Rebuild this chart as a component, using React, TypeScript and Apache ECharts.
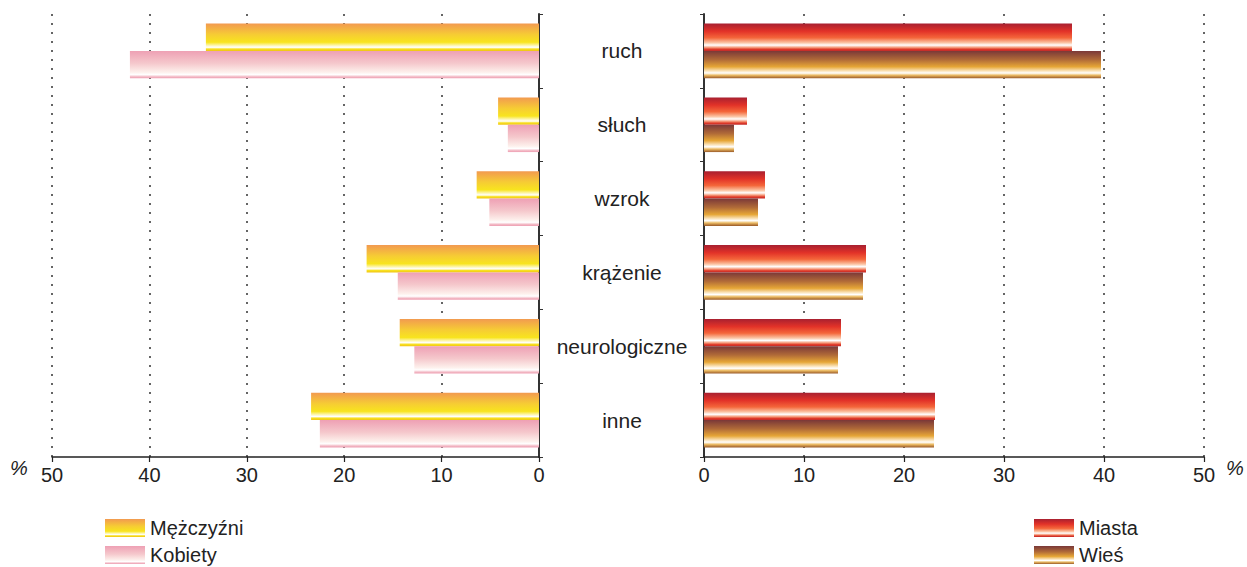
import React, { useEffect, useRef } from "react";
import * as echarts from "echarts";

const categories = ["ruch", "słuch", "wzrok", "krążenie", "neurologiczne", "inne"];
const men = [34.2, 4.2, 6.4, 17.7, 14.3, 23.4];
const women = [42.0, 3.2, 5.1, 14.5, 12.8, 22.5];
const city = [36.8, 4.3, 6.1, 16.2, 13.7, 23.1];
const village = [39.7, 3.0, 5.4, 15.9, 13.4, 23.0];
const xTicks = [0, 10, 20, 30, 40, 50];

const FONT = "Liberation Sans, Arial, Helvetica, sans-serif";

const grad = (stops: [number, string][]) => ({
  type: "linear",
  x: 0,
  y: 0,
  x2: 0,
  y2: 1,
  colorStops: stops.map(([offset, color]) => ({ offset, color })),
});

const menColor = grad([
  [0, "#f29a50"],
  [0.4, "#f6cc34"],
  [0.68, "#f8e41e"],
  [0.8, "#fdf6b0"],
  [0.87, "#ffffff"],
  [0.93, "#f8e020"],
  [1, "#f0c414"],
]);
const womenColor = grad([
  [0, "#eea0b4"],
  [0.45, "#f5c8cc"],
  [0.78, "#fdf0ec"],
  [0.87, "#ffffff"],
  [0.95, "#f2b6c2"],
  [1, "#eea0b4"],
]);
const cityColor = grad([
  [0, "#a82030"],
  [0.28, "#e23228"],
  [0.52, "#f4663a"],
  [0.7, "#fbc4a4"],
  [0.79, "#ffffff"],
  [0.87, "#f6a080"],
  [0.94, "#e03a28"],
  [1, "#c02a2a"],
]);
const villageColor = grad([
  [0, "#7a3838"],
  [0.32, "#b06a38"],
  [0.58, "#e6a636"],
  [0.74, "#fbe6c0"],
  [0.81, "#ffffff"],
  [0.89, "#ecbc64"],
  [1, "#9a5a28"],
]);

export default function App() {
  const ref = useRef<HTMLDivElement>(null);
  useEffect(() => {
    if (!ref.current) return;
    const chart = echarts.init(ref.current, null, { renderer: "svg" });
    const xAxisCommon = (gridIndex: number, inverse: boolean) => ({
      type: "value",
      gridIndex,
      inverse,
      min: xTicks[0],
      max: xTicks[xTicks.length - 1],
      interval: 10,
      position: "bottom",
      axisLine: { show: true, onZero: false, lineStyle: { color: "#222", width: 1.5 } },
      axisTick: { show: true, length: 5, lineStyle: { color: "#222", width: 1.2 } },
      axisLabel: { fontSize: 20, color: "#222", fontFamily: FONT, margin: 8 },
      splitLine: {
        show: true,
        lineStyle: { color: "#333", type: [2, 7], width: 1.5 },
      },
    });
    const legendCommon = {
      orient: "vertical",
      top: 518,
      height: 80,
      padding: 0,
      itemWidth: 40,
      itemHeight: 18,
      itemGap: 7,
      icon: "rect",
      textStyle: { fontSize: 20, color: "#222", fontFamily: FONT },
    };
    chart.setOption({
      animation: false,
      backgroundColor: "#ffffff",
      grid: [
        { left: 52, top: 14, width: 487, height: 443 },
        { left: 704, top: 14, width: 500, height: 443 },
      ],
      xAxis: [xAxisCommon(0, true), xAxisCommon(1, false)],
      yAxis: [
        {
          type: "category",
          gridIndex: 0,
          data: categories,
          inverse: true,
          position: "right",
          axisLine: { show: true, lineStyle: { color: "#333", width: 2 } },
          axisTick: { show: true, length: 4, lineStyle: { color: "#333" } },
          axisLabel: { show: false },
        },
        {
          type: "category",
          gridIndex: 1,
          data: categories,
          inverse: true,
          position: "left",
          axisLine: { show: true, lineStyle: { color: "#333", width: 2 } },
          axisTick: { show: true, length: 4, lineStyle: { color: "#333" } },
          axisLabel: {
            show: true,
            align: "center",
            margin: 82,
            fontSize: 21,
            color: "#222",
            fontFamily: FONT,
            padding: [0, 0, 6, 0],
          },
        },
      ],
      legend: [
        { ...legendCommon, data: ["Mężczyźni", "Kobiety"], left: 105 },
        { ...legendCommon, data: ["Miasta", "Wieś"], left: 1034 },
      ],
      graphic: [
        {
          type: "text",
          left: 10,
          top: 458,
          style: { text: "%", fontSize: 20, fill: "#222", fontFamily: FONT, fontStyle: "italic" },
        },
        {
          type: "text",
          left: 1226,
          top: 458,
          style: { text: "%", fontSize: 20, fill: "#222", fontFamily: FONT, fontStyle: "italic" },
        },
      ],
      series: [
        {
          name: "Mężczyźni",
          type: "bar",
          xAxisIndex: 0,
          yAxisIndex: 0,
          data: men,
          barGap: "0%",
          barCategoryGap: "26%",
          itemStyle: { color: menColor },
        },
        {
          name: "Kobiety",
          type: "bar",
          xAxisIndex: 0,
          yAxisIndex: 0,
          data: women,
          barGap: "0%",
          barCategoryGap: "26%",
          itemStyle: { color: womenColor },
        },
        {
          name: "Miasta",
          type: "bar",
          xAxisIndex: 1,
          yAxisIndex: 1,
          data: city,
          barGap: "0%",
          barCategoryGap: "26%",
          itemStyle: { color: cityColor },
        },
        {
          name: "Wieś",
          type: "bar",
          xAxisIndex: 1,
          yAxisIndex: 1,
          data: village,
          barGap: "0%",
          barCategoryGap: "26%",
          itemStyle: { color: villageColor },
        },
      ],
    });
    return () => chart.dispose();
  }, []);
  return (
    <div
      ref={ref}
      style={{ position: "fixed", left: 0, top: 0, width: 1247, height: 567 }}
    />
  );
}
